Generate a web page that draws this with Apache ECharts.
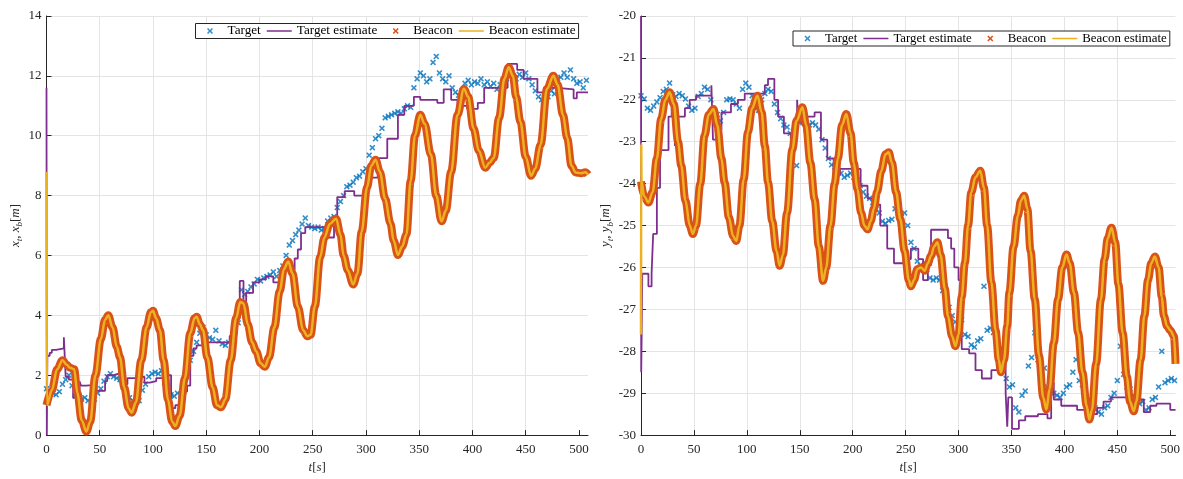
<!DOCTYPE html>
<html><head><meta charset="utf-8">
<script src="https://cdn.jsdelivr.net/npm/echarts@6/dist/echarts.min.js"></script>
<style>html,body{margin:0;padding:0;background:#fff}#c{width:1183px;height:479px}</style>
</head><body><div id="c"></div>
<script>
// ---------------- data ----------------
const seriesNames = ['Target', 'Target estimate', 'Beacon', 'Beacon estimate'];
const xTicks = [0, 50, 100, 150, 200, 250, 300, 350, 400, 450, 500];

const targetT = [0,3,6,9,12,15,18,21,24,27, 30,33,36,39,42,45,48,51,54,57, 60,63,66,69,72,75,78,81,84,87,
  90,93,96,99,102,105,108,111,114,117, 120,123,126,129,132,135,138,141,144,147, 150,153,156,159,162,165,168,171,174,177,
  180,183,186,189,192,195,198,201,204,207, 210,213,216,219,222,225,228,231,234,237, 240,243,246,249,252,255,258,261,264,267,
  270,273,276,279,282,285,288,291,294,297, 300,303,306,309,312,315,318,321,324,327, 330,333,336,339,342,345,348,351,354,357,
  360,363,366,369,372,375,378,381,384,387, 390,393,396,399,402,405,408,411,414,417, 420,423,426,429,432,435,438,441,444,447,
  450,453,456,459,462,465,468,471,474,477, 480,483,486,489,492,495,498,501,504,507];

const targetX = [1.55,1.45,1.4,1.35,1.45,1.7,1.85,2.0,1.65,1.3, 1.25,1.2,1.25,1.15,1.1,1.2,1.4,1.55,1.8,1.95,
  2.05,1.95,1.9,1.85,1.6,1.4,1.25,1.15,1.2,1.15, 1.5,1.7,1.95,2.05,2.1,2.05,2.15,1.75,1.6,1.35,
  1.3,1.4,1.35,1.45,2.15,2.5,2.8,3.1,3.4,3.6, 3.35,3.25,3.2,3.5,3.15,3.05,3.0,3.1,3.25,3.45,
  3.75,4.85,4.7,4.8,4.95,5.05,5.2,5.15,5.25,5.3, 5.35,5.45,5.3,5.5,5.65,6.0,6.35,6.5,6.7,6.85,
  7.05,7.25,7.0,6.95,6.9,6.95,6.85,6.9,7.15,7.25, 7.3,7.6,7.8,8.0,8.3,8.35,8.45,8.6,8.65,8.8,
  8.9,9.35,9.6,9.9,10.0,10.25,10.6,10.65,10.7,10.75, 10.8,10.75,10.9,11.0,10.95,11.6,11.9,12.1,12.0,11.8,
  11.9,12.45,12.65,12.1,11.9,11.8,12.0,11.6,11.45,11.35, 11.5,11.75,11.85,11.7,11.8,11.75,11.9,11.7,11.8,11.65,
  11.75,11.55,11.7,11.5,11.9,12.1,12.0,11.9,12.05,11.95, 12.1,11.9,11.7,11.5,11.3,11.2,11.35,11.3,11.5,11.4,
  11.9,11.95,12.1,11.95,12.2,11.9,11.75,11.8,11.6,11.85];

const targetY = [-21.9,-21.98,-22.2,-22.25,-22.15,-22.05,-21.95,-21.8,-21.75,-21.6, -21.88,-21.92,-21.85,-21.9,-21.98,-22.15,-22.25,-22.2,-21.92,-21.85,
  -21.7,-21.75,-22.0,-22.25,-22.35,-22.5,-22.3,-22.0,-21.98,-22.0, -22.1,-22.2,-21.75,-21.6,-21.7,-21.9,-22.1,-22.25,-22.0,-21.85,
  -21.75,-21.8,-22.1,-22.3,-22.45,-22.6,-22.65,-22.8,-22.75,-23.57, -22.45,-22.55,-22.7,-22.6,-22.55,-22.6,-22.7,-22.95,-23.15,-23.4,
  -23.55,-23.6,-23.65,-23.75,-23.85,-23.8,-23.75,-23.85,-23.9,-24.05, -24.2,-24.3,-24.35,-24.45,-24.6,-24.7,-24.9,-24.95,-24.88,-24.85,
  -24.6,-24.5,-24.8,-24.7,-25.0,-25.4,-25.55,-25.85,-25.95,-26.0, -26.05,-26.25,-26.3,-26.25,-26.3,-26.55,-26.65,-26.95,-27.15,-27.3,
  -27.35,-27.25,-27.6,-27.65,-27.85,-27.9,-27.75,-27.7,-26.45,-27.5, -27.45,-27.55,-27.6,-28.1,-28.2,-28.65,-28.85,-28.8,-29.35,-29.45,
  -29.05,-28.95,-28.35,-28.15,-27.56,-28.2,-28.3,-28.4,-28.85,-28.95, -29.0,-29.05,-29.1,-29.0,-28.85,-28.8,-28.5,-28.2,-28.7,-28.8,
  -29.15,-29.2,-29.4,-29.35,-29.45,-29.5,-29.35,-29.3,-29.1,-29.0, -28.7,-27.88,-28.55,-28.85,-28.9,-29.05,-29.1,-29.25,-29.2,-29.4,
  -29.35,-29.15,-29.1,-28.85,-28.0,-28.75,-28.7,-28.65,-28.7,-28.65];

const targetEstX = [[0,11.6],[0.3,0],[0.8,2.65],[3,2.75],[5,2.85],[9,2.9],[16.3,3.27],[18,1.95],[21,1.85],[25,1.25],[28,1.3],
  [31,1.8],[32.5,1.65],[37,1.68],[47,1.48],[55,1.8],[57,2.0],[63,2.05],[68,2.2],[72,1.7],[76,1.9],[84,1.95],[92,1.75],[97,1.8],
  [103,1.9],[110,2.1],[114,2.0],[117,0.9],[121,1.0],[125,1.15],[128.5,1.45],[132,1.65],[135,2.65],[138,2.9],[141,3.0],[147,3.1],
  [172,3.3],[176,3.5],[179,3.9],[181.5,5.15],[185,3.9],[187.5,4.75],[194,5.1],[200,5.2],[206,5.3],[213,5.1],[219,5.0],[223,5.5],
  [229,5.5],[233,5.9],[236,6.2],[239,6.75],[243,6.95],[264,6.6],[270,7.3],[273,7.95],[280,8.15],[289,8.0],[300,8.6],[311,9.25],
  [320,9.9],[330,10.7],[336,11.0],[345,11.3],[351,11.2],[367,11.1],[373,11.55],[380,11.2],[386,11.0],[395,10.9],[405,11.1],
  [411,11.6],[433,12.4],[442,12.2],[448,11.9],[461,11.45],[467,11.6],[480,11.55],[495,11.25],[498,11.45],[508.5,11.45]];

const targetEstY = [[0,-20.0],[0.2,-28.5],[0.6,-27.7],[1.2,-26.15],[7,-26.45],[10,-26.15],[11.5,-25.2],[15,-24.1],[18,-23.2],
  [26,-22.4],[29,-22.2],[32,-23.1],[33.5,-22.4],[41.5,-22.2],[46,-22.0],[52,-21.9],[66.5,-21.65],[68,-22.95],[71,-22.7],[76,-22.3],
  [85,-22.1],[91.5,-22.0],[98,-21.85],[117,-21.65],[120,-21.5],[126,-22.0],[129.5,-22.4],[135,-22.8],[141.5,-22.95],[147.5,-22.0],
  [148.5,-22.55],[157,-22.4],[164,-22.3],[170,-22.95],[176,-23.4],[182,-23.8],[188,-23.65],[207.5,-24.05],[214,-24.35],[220,-24.5],
  [226,-25.0],[232.6,-25.55],[239,-25.9],[248,-25.8],[255,-25.55],[262,-25.8],[266.5,-26.3],[271,-25.95],[274,-25.1],[290,-25.3],
  [293,-25.55],[296,-26.0],[300,-26.3],[303,-27.95],[310,-28.05],[316,-28.45],[322,-28.65],[331,-28.45],[337,-28.3],[344.5,-29.0],
  [346,-29.8],[347,-29.1],[350.5,-29.85],[357,-29.65],[363,-29.55],[375,-29.5],[384,-29.6],[387.5,-28.75],[390,-29.15],[397,-29.3],
  [412,-29.4],[425,-29.5],[431,-29.35],[437,-29.2],[444,-29.1],[463,-29.3],[469,-29.15],[475,-29.45],[481,-29.3],[487,-29.25],
  [500,-29.4],[505,-29.4]];

const beaconX = [[0,1.0],[5,1.5],[10,2.2],[15,2.5],[19,2.35],[22,2.25],[26,2.2],[29,1.4],[33,0.5],[37.5,0.12],[41,0.45],[46,2.0],
  [51,3.2],[55,3.85],[58,4.0],[62,3.6],[66,2.95],[69,2.6],[73,1.6],[77,0.9],[80,0.75],[84,1.1],[89,2.5],[94,3.6],[98,4.1],[100,4.15],
  [103,3.9],[106.5,3.5],[110,2.5],[114,1.2],[118,0.45],[121,0.3],[125,0.65],[130,1.9],[135,3.4],[139,3.9],[141,3.95],[144,3.7],
  [147,3.5],[151,2.6],[156,1.6],[160,1.0],[164,0.93],[168,1.2],[173,2.5],[178,3.9],[182,4.45],[185,4.4],[189,3.7],[193,3.1],
  [197,2.8],[201,2.4],[205,2.28],[209,2.6],[214,3.6],[219,4.8],[223,5.55],[227,5.8],[231,5.4],[236,4.3],[241,3.5],[245,3.3],
  [248,3.35],[252,4.3],[257,5.95],[261,6.6],[266,7.05],[272,7.23],[276,6.7],[279,6.0],[283,5.5],[288,5.03],[292,5.4],[296,6.8],
  [301,8.27],[305,9.0],[309,9.2],[313,8.8],[318,7.9],[323,7.07],[326,6.5],[330,6.02],[334,6.3],[338,6.7],[342,8.5],[346,10.0],
  [351,10.7],[355,10.4],[361,9.37],[366,8.0],[371,7.14],[375,7.5],[380,8.8],[386,10.7],[392,11.57],[396,11.3],[401,10.25],
  [406,9.5],[412,8.93],[416,9.1],[420,9.26],[425,10.6],[430,11.9],[434,12.29],[438,12.0],[441,11.3],[445,10.47],[450,9.3],
  [455,8.66],[459,8.9],[464,9.7],[470,11.57],[476,12.0],[480,11.7],[485,10.7],[489,9.92],[493,9.0],[497,8.77],[502,8.75],
  [506,8.78],[508.5,8.7]];

const beaconY = [[0,-23.95],[3,-24.3],[7,-24.45],[11,-24.2],[15,-23.4],[19,-22.46],[23,-22.0],[27,-21.82],[31,-22.1],[35,-23.0],
  [38,-23.57],[42,-24.4],[46,-25.0],[49,-25.2],[52,-25.0],[56,-24.0],[60,-22.86],[64,-22.35],[68.5,-22.22],[72,-22.6],[76,-23.4],
  [79,-23.97],[83,-24.8],[87,-25.25],[90,-25.37],[93,-25.0],[97,-23.9],[101,-22.78],[105,-22.2],[110,-21.9],[114,-22.3],[117,-23.1],
  [120,-23.97],[124,-24.9],[128,-25.6],[131,-25.96],[134,-25.7],[138,-24.7],[143,-23.18],[147,-22.5],[152.5,-22.18],[156,-22.6],
  [160,-23.5],[164,-24.37],[168,-25.5],[172,-26.32],[175,-26.0],[179,-25.0],[183,-24.0],[186,-23.4],[190,-22.6],[194,-22.34],
  [198,-22.8],[201,-23.5],[204.5,-24.13],[208,-24.7],[211,-25.0],[214,-25.09],[217,-24.9],[220,-24.6],[223,-24.2],[227,-23.7],
  [231,-23.3],[234,-23.25],[237,-23.5],[241,-24.2],[245,-24.85],[249,-25.6],[253,-26.3],[255,-26.45],[258,-26.3],[261,-26.04],
  [264.5,-26.0],[268,-26.08],[271,-25.9],[274,-25.72],[277,-25.5],[280,-25.4],[283,-25.7],[287,-26.5],[290,-27.16],[294,-27.65],
  [297,-27.88],[300,-27.6],[303,-26.7],[306,-25.89],[309,-25.0],[312,-24.21],[316,-23.85],[320.5,-23.69],[324,-24.1],[327,-25.0],
  [331,-26.36],[335,-27.5],[338,-28.2],[340,-28.5],[343,-28.2],[346,-27.4],[348,-26.6],[352,-25.5],[356,-24.77],[359,-24.4],
  [362,-24.29],[365,-24.6],[368,-25.6],[372,-26.76],[376,-28.1],[380,-29.1],[383,-29.39],[386,-28.9],[390,-27.8],[394,-26.76],
  [398,-26.0],[402,-25.69],[405,-25.9],[409,-26.6],[413,-27.56],[417,-28.5],[421,-29.3],[423.5,-29.63],[426,-29.4],[430,-28.3],
  [434.5,-26.76],[438,-25.8],[441,-25.3],[444.5,-25.05],[448,-25.4],[451,-26.4],[455,-27.56],[459,-28.6],[462,-29.2],[465.5,-29.43],
  [468,-29.2],[472,-28.2],[475.5,-27.16],[479,-26.3],[482,-25.9],[485.5,-25.74],[489,-26.0],[492,-26.7],[494,-27.16],[497,-27.4],
  [500,-27.5],[503.5,-27.64],[505,-28.3]];

const beaconEstStartX = [[0,8.8],[0.3,1.0]];
const beaconEstStartY = [[0,-27.6],[0.2,-23.05],[0.5,-23.95]];

// ---------------- chart ----------------
const FONT = 'Liberation Serif';
const AX = '#262626';
const X_MARK = 'path://M0,1.5L1.5,0L4,2.5L6.5,0L8,1.5L5.5,4L8,6.5L6.5,8L4,5.5L1.5,8L0,6.5L2.5,4Z';
// legend icons sized to the 25x6 legend slot (tiny invisible corners fix the box)
const X_LEG = 'path://M0,3L0.01,3L0,3.01Z M25,3L24.99,3L25,3.01Z M9.5,1.1L10.6,0L12.5,1.9L14.4,0L15.5,1.1L13.6,3L15.5,4.9L14.4,6L12.5,4.1L10.6,6L9.5,4.9L11.4,3Z';
const LINE_LEG = 'path://M0,0L0.01,0L0,0.01Z M0,6L0.01,6L0,5.99Z M0,2.2L25,2.2L25,3.8L0,3.8Z';
const COLORS = {target:'#0072BD', est:'#7E2F8E', beacon:'#D95319', bEst:'#EDB120'};

const zip = (t, v) => t.map((x, i) => [x, v[i]]);
const richName = {
  i: {fontFamily: FONT, fontStyle: 'italic', fontSize: 13, lineHeight: 18, color: AX},
  n: {fontFamily: FONT, fontSize: 13, lineHeight: 18, color: AX},
  s: {fontFamily: FONT, fontStyle: 'italic', fontSize: 9, lineHeight: 18, verticalAlign: 'bottom', color: AX}
};

function xAxis(idx, max) {
  return {
    type: 'value', gridIndex: idx, min: 0, max: max, interval: 50,
    axisLine: {show: true, onZero: false, lineStyle: {color: AX, width: 1}},
    axisTick: {show: true, inside: true, length: 5, customValues: xTicks, lineStyle: {color: AX}},
    axisLabel: {customValues: xTicks, color: AX, fontFamily: FONT, fontSize: 13, margin: 8},
    splitLine: {show: true, showMaxLine: false, lineStyle: {color: '#e4e4e4', width: 1}},
    name: '{i|t}{n|[}{i|s}{n|]}', nameLocation: 'middle', nameGap: 20,
    nameTextStyle: {rich: richName}
  };
}
function yAxis(idx, min, max, interval, name, gap) {
  return {
    type: 'value', gridIndex: idx, min: min, max: max, interval: interval,
    axisLine: {show: true, onZero: false, lineStyle: {color: AX, width: 1}},
    axisTick: {show: true, inside: true, length: 5, lineStyle: {color: AX}},
    axisLabel: {color: AX, fontFamily: FONT, fontSize: 13, margin: 5},
    splitLine: {show: true, lineStyle: {color: '#e4e4e4', width: 1}},
    name: name, nameLocation: 'middle', nameRotate: 90, nameGap: gap,
    nameTextStyle: {rich: richName}
  };
}
function legend(left, top, fontSize) {
  return {
    left: left, top: top, orient: 'horizontal', itemWidth: 25, itemHeight: 6, itemGap: 6,
    padding: [1, 3, 1, 2], borderColor: AX, borderWidth: 1, backgroundColor: '#fff',
    textStyle: {fontFamily: FONT, fontSize: fontSize, color: '#000'},
    selectedMode: false,
    data: [
      {name: seriesNames[0], icon: X_LEG},
      {name: seriesNames[1], icon: LINE_LEG},
      {name: seriesNames[2], icon: X_LEG},
      {name: seriesNames[3], icon: LINE_LEG}
    ]
  };
}
function plotSeries(idx, targetVals, est, beacon, beaconStart) {
  return [
    {name: seriesNames[0], type: 'scatter', xAxisIndex: idx, yAxisIndex: idx, data: zip(targetT, targetVals),
     symbol: X_MARK, symbolSize: 6, color: COLORS.target, itemStyle: {color: COLORS.target}, z: 2},
    {name: seriesNames[1], type: 'line', xAxisIndex: idx, yAxisIndex: idx, data: est, step: 'end',
     symbol: 'none', color: COLORS.est, lineStyle: {color: COLORS.est, width: 1.8}, z: 3},
    {name: seriesNames[2], type: 'line', xAxisIndex: idx, yAxisIndex: idx, data: beacon, smooth: 0.35, smoothMonotone: 'x',
     symbol: 'none', color: COLORS.beacon, lineStyle: {color: COLORS.beacon, width: 8}, z: 4},
    {name: seriesNames[3], type: 'line', xAxisIndex: idx, yAxisIndex: idx, data: beaconStart.concat(beacon.slice(1)),
     smooth: 0.35, smoothMonotone: 'x',
     symbol: 'none', color: COLORS.bEst, lineStyle: {color: COLORS.bEst, width: 2.5}, z: 5}
  ];
}

const chart = echarts.init(document.getElementById('c'), null, {renderer: 'canvas'});
chart.setOption({
  animation: false,
  backgroundColor: '#fff',
  grid: [
    {left: 46.5, top: 16, width: 541.5, height: 425, containLabel: false},
    {left: 641, top: 16, width: 536, height: 425, containLabel: false}
  ],
  xAxis: [xAxis(0, 508.5), xAxis(1, 505)],
  yAxis: [
    yAxis(0, 0, 14, 2, '{i|x}{s|t}{n|, }{i|x}{s|b}{n|[}{i|m}{n|]}', 21),
    yAxis(1, -30, -20, 1, '{i|y}{s|t}{n|, }{i|y}{s|b}{n|[}{i|m}{n|]}', 25)
  ],
  legend: [legend(195.5, 23.5, 13.2), legend(793, 31, 12.85)],
  series: plotSeries(0, targetX, targetEstX, beaconX, beaconEstStartX)
    .concat(plotSeries(1, targetY, targetEstY, beaconY, beaconEstStartY))
});
</script>
</body></html>
